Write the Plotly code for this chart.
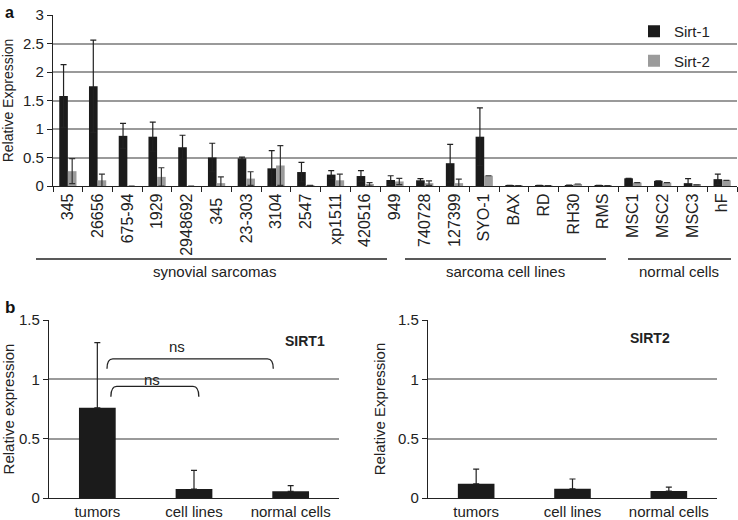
import plotly.graph_objects as go

FONT = "Liberation Sans, Arial, sans-serif"

# ---------- panel a data ----------
samples = ["345", "26656", "675-94", "1929", "2948692", "345 ", "23-303", "3104", "2547",
           "xp1511", "420516", "949", "740728", "127399", "SYO-1", "BAX", "RD", "RH30",
           "RMS", "MSC1", "MSC2", "MSC3", "hF"]
sirt1 = [1.58, 1.75, 0.88, 0.865, 0.68, 0.50, 0.485, 0.31, 0.245, 0.20, 0.175, 0.105,
         0.10, 0.40, 0.865, 0.01, 0.01, 0.015, 0.01, 0.135, 0.09, 0.05, 0.12]
sirt1_err = [0.55, 0.81, 0.22, 0.255, 0.21, 0.25, 0.02, 0.31, 0.17, 0.07, 0.095, 0.075,
             0.03, 0.33, 0.505, 0, 0, 0, 0, 0, 0, 0.08, 0.09]
sirt2 = [0.26, 0.10, 0.0, 0.16, 0.0, 0.05, 0.13, 0.36, 0.01, 0.10, 0.03, 0.08,
         0.05, 0.05, 0.18, 0.005, 0.005, 0.035, 0.005, 0.06, 0.06, 0.02, 0.10]
sirt2_err = [0.22, 0.11, 0, 0.16, 0, 0.11, 0.12, 0.35, 0, 0.11, 0.03, 0.055,
             0.04, 0.07, 0, 0, 0, 0, 0, 0, 0, 0, 0]
group_labels = ["synovial sarcomas", "sarcoma cell lines", "normal cells"]

# ---------- panel b data ----------
b_cats = ["tumors", "cell lines", "normal cells"]
sirt1_b = [0.76, 0.076, 0.056]
sirt1_b_err = [0.55, 0.157, 0.048]
sirt2_b = [0.12, 0.078, 0.059]
sirt2_b_err = [0.124, 0.082, 0.033]

BLACK = "#1b1b1b"
GRAY = "#9b9b9b"
GRID = "#9a9a9a"

fig = go.Figure()

fig.add_trace(go.Bar(x=samples, y=sirt1, name="Sirt-1", marker_color=BLACK,
                     marker_line_width=0, legendgroup="s1",
                     error_y=dict(type="data", array=sirt1_err, color="#222222",
                                  thickness=1.2, width=3),
                     xaxis="x", yaxis="y"))
fig.add_trace(go.Bar(x=samples, y=sirt2, name="Sirt-2", marker_color=GRAY,
                     marker_line_width=0, legendgroup="s2",
                     error_y=dict(type="data", array=sirt2_err, color="#333333",
                                  thickness=1.2, width=3),
                     xaxis="x", yaxis="y"))

fig.add_trace(go.Bar(x=b_cats, y=sirt1_b, marker_color=BLACK, marker_line_width=0,
                     showlegend=False, width=0.38,
                     error_y=dict(type="data", array=sirt1_b_err, arrayminus=[0, 0, 0],
                                  symmetric=False, color="#222222", thickness=1.2, width=3),
                     xaxis="x2", yaxis="y2"))
fig.add_trace(go.Bar(x=b_cats, y=sirt2_b, marker_color=BLACK, marker_line_width=0,
                     showlegend=False, width=0.38,
                     error_y=dict(type="data", array=sirt2_b_err, arrayminus=[0, 0, 0],
                                  symmetric=False, color="#222222", thickness=1.2, width=3),
                     xaxis="x3", yaxis="y3"))

W, H = 738, 520
def px(x):
    return x / W
def py(y):
    return 1 - y / H

axis_common = dict(showline=True, linecolor="#222222", linewidth=1.2,
                   tickfont=dict(family=FONT, size=15, color="#222222"))

fig.update_layout(
    width=W, height=H, autosize=False,
    margin=dict(l=0, r=0, t=0, b=0, autoexpand=False),
    paper_bgcolor="white", plot_bgcolor="white",
    barmode="group", bargap=0.42, bargroupgap=0,
    font=dict(family=FONT, size=14, color="#222222"),
    showlegend=True,
    legend=dict(x=px(634), y=py(15), xanchor="left", yanchor="top",
                font=dict(family=FONT, size=15, color="#222222"),
                tracegroupgap=7, bgcolor="rgba(0,0,0,0)", itemwidth=30),
    xaxis=dict(domain=[px(53), px(737)], ticks="outside", tickson="boundaries",
               ticklen=5, tickcolor="#222222", tickangle=-90, showgrid=False,
               showline=True, linecolor="#222222", linewidth=1.2,
               tickfont=dict(family=FONT, size=16, color="#222222")),
    yaxis=dict(domain=[py(186), py(15)], range=[0, 3], dtick=0.5, ticks="outside",
               ticklen=5, tickcolor="#222222", showgrid=True, gridcolor=GRID,
               gridwidth=1.5, zeroline=False,
               title=dict(text="Relative Expression", standoff=6,
                          font=dict(family=FONT, size=14, color="#222222")),
               **axis_common),
    xaxis2=dict(domain=[px(49), px(339)], anchor="y2", showgrid=False, ticks="",
                **axis_common),
    yaxis2=dict(domain=[py(498), py(320)], anchor="x2", range=[0, 1.5], dtick=0.5,
                ticks="outside", ticklen=5, tickcolor="#222222", showgrid=True,
                gridcolor=GRID, gridwidth=1.5, zeroline=False,
                tickvals=[0, 0.5, 1, 1.5], ticktext=["0", "0.5", "1", "1.5"],
                title=dict(text="Relative expression", standoff=8,
                           font=dict(family=FONT, size=15, color="#222222")),
                **axis_common),
    xaxis3=dict(domain=[px(428), px(717)], anchor="y3", showgrid=False, ticks="",
                **axis_common),
    yaxis3=dict(domain=[py(498), py(320)], anchor="x3", range=[0, 1.5], dtick=0.5,
                ticks="outside", ticklen=5, tickcolor="#222222", showgrid=True,
                gridcolor=GRID, gridwidth=1.5, zeroline=False,
                tickvals=[0, 0.5, 1, 1.5], ticktext=["0", "0.5", "1", "1.5"],
                title=dict(text="Relative Expression", standoff=8,
                           font=dict(family=FONT, size=15, color="#222222")),
                **axis_common),
)

shapes = []
annotations = []

# group brackets under panel a
group_spans = [(36, 387), (405, 606), (628, 731)]
group_centers = [214, 505, 679]
for (x0, x1), cx, lab in zip(group_spans, group_centers, group_labels):
    shapes.append(dict(type="line", xref="paper", yref="paper", x0=px(x0), x1=px(x1),
                       y0=py(259), y1=py(259), line=dict(color="#222222", width=1.5)))
    annotations.append(dict(text=lab, xref="paper", yref="paper", x=px(cx), y=py(271),
                            showarrow=False, xanchor="center", yanchor="middle",
                            font=dict(family=FONT, size=15, color="#222222")))

# significance brackets, panel b left (data coords)
for (xa, xb, yh, yl, tx, ty) in [(0.10, 1.82, 1.173, 1.09, 0.82, 1.28),
                                  (0.14, 1.05, 0.94, 0.853, 0.57, 1.0)]:
    shapes.append(dict(type="path", xref="x2", yref="y2",
                       path=f"M {xa},{yl} Q {xa},{yh} {xa+0.06},{yh} L {xb-0.06},{yh} Q {xb},{yh} {xb},{yl}",
                       line=dict(color="#222222", width=1.3)))
    annotations.append(dict(text="ns", xref="x2", yref="y2", x=tx, y=ty, showarrow=False,
                            font=dict(family=FONT, size=15, color="#222222")))

annotations.append(dict(text="<b>SIRT1</b>", xref="x2", yref="y2", x=2.15, y=1.32,
                        showarrow=False, font=dict(family=FONT, size=14, color="#222222")))
annotations.append(dict(text="<b>SIRT2</b>", xref="x3", yref="y3", x=1.8, y=1.35,
                        showarrow=False, font=dict(family=FONT, size=14, color="#222222")))

# panel letters
annotations.append(dict(text="<b>a</b>", xref="paper", yref="paper", x=px(3), y=py(12),
                        xanchor="left", yanchor="middle", showarrow=False,
                        font=dict(family=FONT, size=16, color="#111111")))
annotations.append(dict(text="<b>b</b>", xref="paper", yref="paper", x=px(3), y=py(307),
                        xanchor="left", yanchor="middle", showarrow=False,
                        font=dict(family=FONT, size=17, color="#111111")))

fig.update_layout(shapes=shapes, annotations=annotations)

fig.write_html("out.html", config={"displayModeBar": False},
               post_script="document.body.style.margin='0';document.body.style.overflow='hidden';")
